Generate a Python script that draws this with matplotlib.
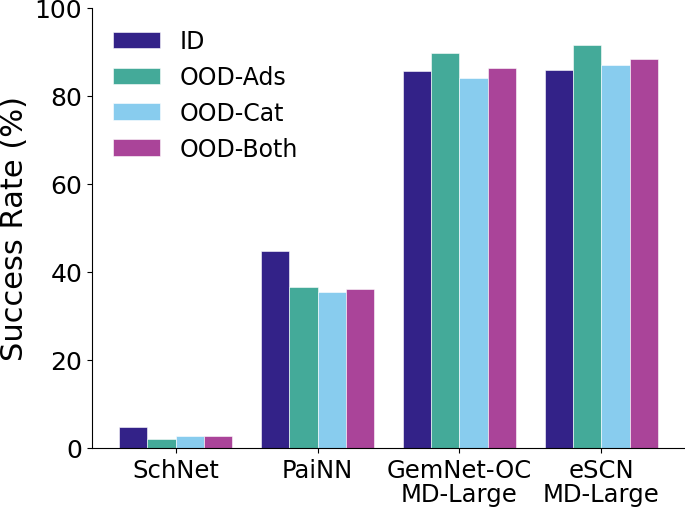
import matplotlib
matplotlib.use("Agg")
import matplotlib.pyplot as plt
import numpy as np

models = ["SchNet", "PaiNN", "GemNet-OC\nMD-Large", "eSCN\nMD-Large"]
series_names = ["ID", "OOD-Ads", "OOD-Cat", "OOD-Both"]
id_vals = [4.8, 44.8, 85.6, 85.9]
ads_vals = [2.1, 36.6, 89.7, 91.7]
cat_vals = [2.8, 35.5, 84.0, 87.0]
both_vals = [2.8, 36.1, 86.4, 88.3]
colors = ["#332288", "#44AA99", "#88CCEE", "#AA4499"]


def drawChart():
    fig, ax = plt.subplots(figsize=(6.85, 5.1), dpi=100)
    fig.subplots_adjust(left=92/685, right=1.0, top=1-9/510, bottom=1-449/510)

    x = np.arange(len(models))
    width = 0.2
    all_vals = [id_vals, ads_vals, cat_vals, both_vals]
    for i, (name, vals) in enumerate(zip(series_names, all_vals)):
        ax.bar(x + (i - 1.5) * width, vals, width, label=name, color=colors[i],
               edgecolor="white", linewidth=0.4)

    ax.set_xticks(x)
    ax.set_xticklabels(models, fontsize=17.5, linespacing=1.0)
    ax.set_ylim(0, 100)
    ax.set_yticks([0, 20, 40, 60, 80, 100])
    ax.tick_params(axis="y", labelsize=18)
    ax.set_ylabel("Success Rate (%)", fontsize=22)
    ax.spines["top"].set_visible(False)
    ax.spines["right"].set_visible(False)

    ax.legend(loc="upper left", frameon=False, fontsize=17)

    fig.savefig("out.png", dpi=100)


if __name__ == "__main__":
    drawChart()
